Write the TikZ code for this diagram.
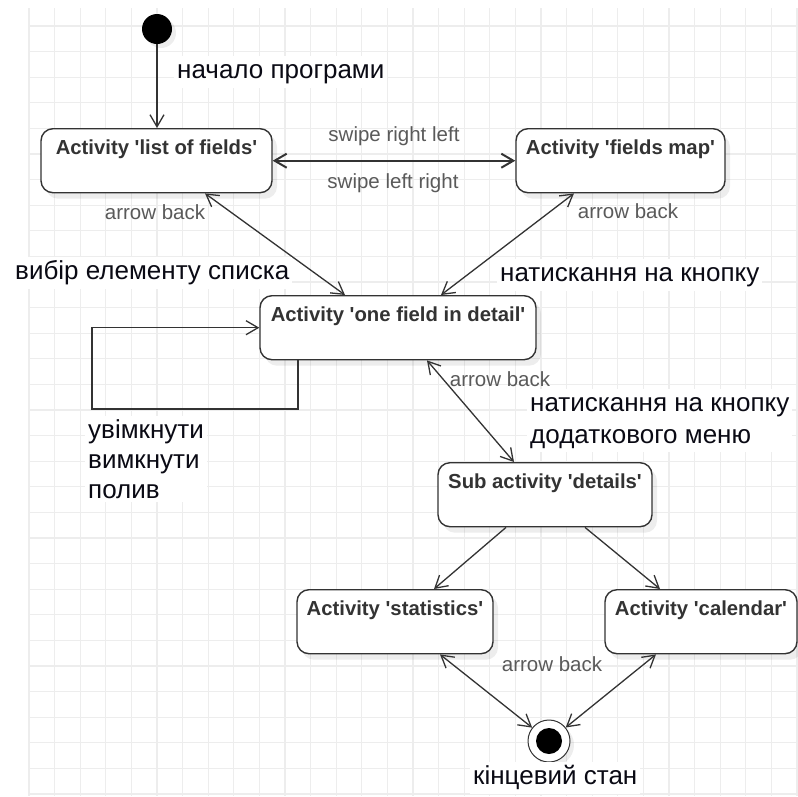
\documentclass[tikz,border=0pt]{standalone}
\usepackage{fontspec}
\setmainfont{Liberation Sans}[Ligatures=TeXOff]
\usetikzlibrary{arrows.meta,shadows,calc}
\definecolor{gridc}{HTML}{EDEDED}
\definecolor{linec}{HTML}{333333}
\definecolor{boxtext}{HTML}{333333}
\definecolor{lblc}{HTML}{5A5A5A}
\definecolor{uac}{HTML}{0A0A14}
\begin{document}
\begin{tikzpicture}[x=1pt,y=-1pt,
  gridline/.style={draw=gridc, line width=1.3pt},
  box/.style={draw=linec, line width=1.4pt, rounded corners=12pt, fill=white,
    anchor=north, inner xsep=0pt, inner ysep=0pt, text height=26pt, text depth=38pt,
    font=\fontsize{20.3}{24}\selectfont\bfseries, text=boxtext,
    drop shadow={shadow xshift=5pt, shadow yshift=-6pt, fill=black, opacity=0.07}},
  initst/.style={circle, fill=black, minimum size=30pt, inner sep=0pt,
    drop shadow={shadow xshift=4pt, shadow yshift=-4pt, fill=black, opacity=0.07}},
  finalst/.style={circle, draw=linec, line width=1pt, fill=white, minimum size=42pt, inner sep=0pt,
    drop shadow={shadow xshift=4pt, shadow yshift=-4pt, fill=black, opacity=0.07}},
  finalin/.style={circle, fill=black, minimum size=26pt, inner sep=0pt},
  arr/.style={draw=linec, line width=1.3pt, -{Straight Barb[length=12pt,width=14pt]}},
  barr/.style={draw=linec, line width=1.3pt, {Straight Barb[length=12pt,width=14pt]}-{Straight Barb[length=12pt,width=14pt]}},
  lbl/.style={font=\fontsize{20.5}{24}\selectfont, text=lblc, inner sep=0pt, text height=15.4pt, text depth=4.5pt},
  ua/.style={font=\fontsize{26}{30}\selectfont, text=uac, fill=white, inner sep=3pt, text height=19.5pt, text depth=5.7pt},
  uamulti/.style={font=\fontsize{26}{#1}\selectfont, text=uac, fill=white, inner sep=3pt, align=left, anchor=north west}
]
\useasboundingbox (0,0) rectangle (798,796);
\fill[white] (0,0) rectangle (798,796);
% grid
\foreach \i in {0,...,30} { \draw[gridline] ({29+25.6*\i},8) -- ({29+25.6*\i},796); }
\foreach \j in {0,...,30} { \draw[gridline] (29,{26+25.6*\j}) -- (798,{26+25.6*\j}); }

% states
\node[initst] (init) at (157,29) {};
\node[box, minimum width=231pt] (list) at (156.5,128) {Activity 'list of fields'};
\node[box, minimum width=209pt] (map) at (620.5,128) {Activity 'fields map'};
\node[box, minimum width=276pt] (detail) at (398,295) {Activity 'one field in detail'};
\node[box, minimum width=214pt] (details) at (545,462) {Sub activity 'details'};
\node[box, minimum width=196pt] (stats) at (395,589) {Activity 'statistics'};
\node[box, minimum width=192pt] (calendar) at (701,589) {Activity 'calendar'};
\node[finalst] (final) at (549,741) {};
\node[finalin] (finalcore) at (final) {};

% connectors
\draw[arr] (init) -- (init |- list.north);
\draw[barr, line width=2pt] (list.east) -- (map.west);
\draw[barr] ([xshift=48.5pt]list.south) -- ([xshift=-53pt]detail.north);
\draw[barr] ([xshift=-46.5pt]map.south) -- ([xshift=43pt]detail.north);
\draw[barr] ([xshift=29pt]detail.south) -- ([xshift=-31pt]details.north);
\draw[arr] ([xshift=-39pt]details.south) -- ([xshift=39pt]stats.north);
\draw[arr] ([xshift=40pt]details.south) -- ([xshift=-41pt]calendar.north);
\draw[barr] ([xshift=45pt]stats.south) -- (final);
\draw[barr] ([xshift=-45pt]calendar.south) -- (final);
\coordinate (loopc) at (92,409);
\draw[arr] ([xshift=-100pt]detail.south) |- (loopc) |- (detail.west);

% grey labels
\node[lbl] (swrl) at (394,136) {swipe right left};
\node[lbl] (swlr) at (393,183) {swipe left right};
\node[lbl] (ab1) at (155,214) {arrow back};
\node[lbl] (ab2) at (628,213) {arrow back};
\node[lbl] (ab3) at (500,381) {arrow back};
\node[lbl] (ab4) at (552,666) {arrow back};

% Ukrainian labels
\node[ua, anchor=west] (startlbl) at (174,72) {начало програми};
\node[ua, anchor=west] (chooselbl) at (12,273) {вибір елементу списка};
\node[ua, anchor=west] (presslbl) at (497,275) {натискання на кнопку};
\node[uamulti=32] (menulbl) at (527,388.75) {\rule{0pt}{20pt}натискання на кнопку\\додаткового меню};
\node[uamulti=30] (togglelbl) at (85,415.75) {\rule{0pt}{20pt}увімкнути\\вимкнути\\полив};
\node[ua, anchor=west] (endlbl) at (470,778) {кінцевий стан};
\end{tikzpicture}
\end{document}
